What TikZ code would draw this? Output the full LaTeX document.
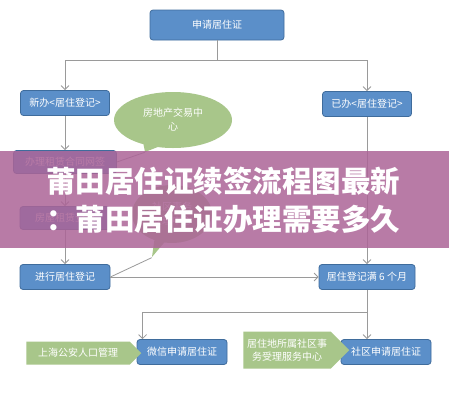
\documentclass[tikz,border=0pt]{standalone}
\usepackage{fontspec}
\setmainfont{Noto Sans CJK SC}
\usepackage{tikz}
\usetikzlibrary{arrows.meta,positioning,shapes.callouts,shapes.symbols,calc}
\definecolor{boxblue}{HTML}{5B8FC9}
\definecolor{boxedge}{HTML}{3F6C9C}
\definecolor{leafgreen}{HTML}{A8C68A}
\definecolor{linegray}{HTML}{9A9A9A}
\definecolor{bannerpink}{HTML}{AC6497}
\tikzset{
  fc/box/.style={draw=boxedge, fill=boxblue, line width=0.8pt, rounded corners=3pt, text=white,
    minimum width=90pt, minimum height=25pt, inner sep=2pt, font=\fontsize{10}{12}\selectfont},
  fc/callout/.style={ellipse callout, fill=leafgreen, text=white, align=center, inner sep=1pt,
    font=\fontsize{10}{14}\selectfont},
  fc/signal/.style={signal, signal from=nowhere, signal to=east, fill=leafgreen, text=white,
    inner sep=2pt, font=\fontsize{10}{13}\selectfont},
  fc/line/.style={draw=linegray, line width=0.8pt},
  fc/arrow/.style={fc/line, -{Straight Barb[length=4pt,width=8pt]}},
  fc/banner/.style={fill=bannerpink, fill opacity=0.85, minimum width=449pt, minimum height=97pt, inner sep=0pt},
  fc/title/.style={text=white, inner sep=0pt, font=\fontsize{29.5}{29.5}\selectfont\bfseries}
}
\begin{document}
\begin{tikzpicture}[x=1pt, y=-1pt]
  \useasboundingbox[fill=white] (0,0) rectangle (449,400);
  % top of the flow
  \node[fc/box, minimum width=134pt, minimum height=30pt] (apply) at (217,25) {申请居住证};
  \node[fc/box, minimum width=89pt] (newreg) at (65,103) {新办<居住登记>};
  \node[fc/box, minimum width=89pt] (oldreg) at (367,104) {已办<居住登记>};

  % left branch with the two offices
  \node[fc/box, minimum width=103pt, minimum height=23pt] (lease) at (65,162) {办理租赁合同网签};
  \node[fc/box, minimum width=90pt, minimum height=23pt] (filing) at (65,218) {房屋租赁登记};
  \node[fc/box] (doreg) at (65,277) {进行居住登记};
  \node[fc/callout, minimum width=118pt, minimum height=56pt,
    callout absolute pointer={(145,152)}] (estate) at (173,120) {房地产交易中\\心};
  \node[fc/callout, minimum width=80pt, minimum height=58pt,
    callout absolute pointer={(152,257)}] (office) at (172,214) {社区事务\\受理中心};

  % right branch and the two ways to apply
  \node[fc/box, minimum width=96pt] (six) at (367,277) {居住登记满 6 个月};
  \node[fc/box] (wechat) at (182,352) {微信申请居住证};
  \node[fc/box] (community) at (386,352) {社区申请居住证};
  \node[fc/signal, minimum width=115pt, minimum height=23pt] (police) at (78,353) {上海公安人口管理};
  \node[fc/signal, minimum width=106pt, minimum height=37pt, align=center] (centre) at (287,350)
    {居住地所属社区事\\务受理服务中心};

  \draw[fc/arrow] (apply.south) -- ++(0,20) -| (newreg.north);
  \draw[fc/arrow] (apply.south) -- ++(0,20) -| (oldreg.north);
  \draw[fc/arrow] (newreg) -- (lease);
  \draw[fc/arrow] (lease) -- (filing);
  \draw[fc/arrow] (filing) -- (doreg);
  \draw[fc/line] (lease.east) -- (estate.pointer);
  \draw[fc/line] (doreg.east) -- (office.pointer);
  \draw[fc/arrow] (doreg) -- (six);
  \draw[fc/arrow] (oldreg) -- (six);
  \draw[fc/arrow] (six.south) -- (six.south |- community.north);
  \draw[fc/arrow] (six.south) -- ++(0,22) -| ([xshift=6pt]wechat.north west);

  % title banner laid over the chart
  \node[fc/banner] (banner) at (224.5,199.5) {};
  \node[fc/title, anchor=west] (title1) at (46,181) {莆田居住证续签流程图最新};
  \node[fc/title, anchor=west] (title2) at (46,219) {：莆田居住证办理需要多久};
\end{tikzpicture}
\end{document}
